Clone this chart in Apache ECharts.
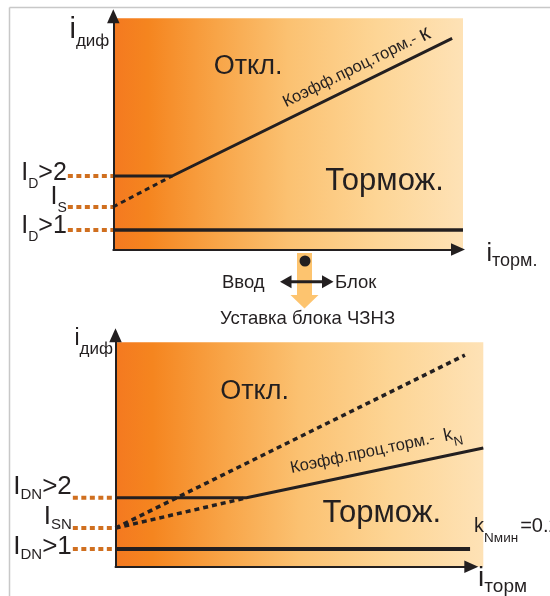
<!DOCTYPE html>
<html><head><meta charset="utf-8">
<script src="https://cdn.jsdelivr.net/npm/echarts@6/dist/echarts.min.js"></script>
<style>html,body{margin:0;padding:0;background:#fff}#c{width:550px;height:596px}</style>
</head><body><div id="c"></div>
<script>
// ---------- data (relative current units) ----------
const xRange = [-1.6, 10];
const yRange = [0, 10];
const zoneCorners = [[0, 0], [10, 10]];          // shaded operating area

// top panel: i_diff vs i_torm, standard characteristic
const topLevels = [3.18, 1.84, 0.84];            // I_D>2, I_S, I_D>1
const topLevelLabels = [['I', 'D', '>2'], ['I', 'S', ''], ['I', 'D', '>1']];
const topBreakX = 1.69;                           // end of I_D>2 flat part
const topSlopeEnd = [9.69, 9.13];                 // end of slope k
const topLowEndX = 10;                            // end of I_D>1 line
const topGuideStartX = -1.29;                     // start of orange guide dots
const topRegionNames = ['Откл.', 'Тормож.'];
const topRegionAnchors = [[3.86, 7.92], [7.76, 2.93]];
const topSlopeText = ['Коэфф.проц.торм.- ', 'к'];

// bottom panel: ЧЗНЗ block setting
const botLevels = [3.07, 1.72, 0.79];            // I_DN>2, I_SN, I_DN>1
const botLevelLabels = [['I', 'DN', '>2'], ['I', 'SN', ''], ['I', 'DN', '>1']];
const botBreakX = 3.56;
const botSlopeEnd = [10, 5.29];                   // k_N slope end
const botUpperEnd = [9.5, 9.43];                  // dotted k slope end
const botLowEndX = 9.64;
const botGuideStartX = -1.16;
const botRegionNames = ['Откл.', 'Тормож.'];
const botRegionAnchors = [[3.78, 7.82], [7.24, 2.38]];
const botSlopeText = ['Коэфф.проц.торм.-  ', 'k', 'N'];
const botNoteText = ['k', 'Nмин', '=0.2'];
const botNoteAnchor = [9.75, 1.81];

const axisNames = { main: 'i', ySub: 'диф', xTopSub: 'торм.', xBotSub: 'торм' };
const switchTexts = ['Ввод', 'Блок', 'Уставка блока ЧЗНЗ'];

// ---------- styles ----------
const ink = '#231f20';
const guideColor = '#d06f1f';
const ff = '"Liberation Sans", Arial, Helvetica, sans-serif';
const topLabelShift = [-3, -9.5, -3.5];
const botLabelShift = [-10.7, -11, -1.7];
const regionSizes = [27, 31];
const grad = {
  type: 'linear', x: 0, y: 0, x2: 1, y2: 0, global: false,
  colorStops: [
    { offset: 0, color: '#f47920' }, { offset: 0.1, color: '#f5851f' },
    { offset: 0.3, color: '#f8a548' }, { offset: 0.5, color: '#fbc171' },
    { offset: 0.75, color: '#fdd595' }, { offset: 1, color: '#fee2b6' }
  ]
};

function rich(mainSize, subSize, pad) {
  return {
    m: { fontSize: mainSize, lineHeight: mainSize, color: ink, fontFamily: ff },
    s: { fontSize: subSize, lineHeight: subSize, padding: [pad, 0, 0, 0], color: ink, fontFamily: ff }
  };
}
function subText(parts) {
  let s = '{m|' + parts[0] + '}{s|' + parts[1] + '}';
  if (parts[2]) s += '{m|' + parts[2] + '}';
  return s;
}

const grids = [
  { left: 57, top: 18.3, width: 406, height: 231.2, outerBoundsMode: 'none', containLabel: false },
  { left: 113.3, top: 16.3, width: 344.7, height: 233.2, outerBoundsMode: 'none', containLabel: false },
  { left: 56.65, top: 342.3, width: 426.65, height: 224.4, outerBoundsMode: 'none', containLabel: false },
  { left: 115.5, top: 335.3, width: 355.8, height: 231.4, outerBoundsMode: 'none', containLabel: false }
];

function hiddenAxis(g, range) {
  return { type: 'value', gridIndex: g, min: range[0], max: range[1], show: false };
}
function arrowAxis(g, name, gap, textStyle) {
  return {
    type: 'value', gridIndex: g, min: 0, max: 1, name: name, nameLocation: 'end', nameGap: gap,
    nameMoveOverlap: false, nameTextStyle: textStyle, z: 6,
    axisLine: { show: true, onZero: false, symbol: ['none', 'triangle'], symbolSize: [12.5, 14],
      lineStyle: { color: ink, width: 2 } },
    axisTick: { show: false }, axisLabel: { show: false }, splitLine: { show: false }
  };
}

const xAxes = [
  hiddenAxis(0, xRange),
  arrowAxis(1, '{m|' + axisNames.main + '}{s|' + axisNames.xTopSub + '}', 28.5,
    { padding: [9, 0, 0, 0], rich: rich(25, 18, 13.4) }),
  hiddenAxis(2, xRange),
  arrowAxis(3, '{m|' + axisNames.main + '}{s|' + axisNames.xBotSub + '}', 6.8,
    { padding: [22.6, 0, 0, 0], rich: rich(28, 19, 18) })
];
const yAxes = [
  hiddenAxis(0, yRange),
  arrowAxis(1, '{m|' + axisNames.main + '}{s|' + axisNames.ySub + '}', 1,
    { align: 'right', verticalAlign: 'top', padding: [0, 4, 0, 0], rich: rich(29, 17, 24) }),
  hiddenAxis(2, yRange),
  arrowAxis(3, '{m|' + axisNames.main + '}{s|' + axisNames.ySub + '}', 8,
    { align: 'right', verticalAlign: 'top', padding: [0, 2.5, 0, 0], rich: rich(23, 17, 22) })
];

function zone(g) {
  return {
    type: 'line', xAxisIndex: g, yAxisIndex: g, data: [], symbol: 'none', silent: true, z: 1,
    markArea: { silent: true, animation: false,
      itemStyle: { color: grad, opacity: 1, borderWidth: 0 },
      label: { show: false },
      data: [[{ coord: zoneCorners[0] }, { coord: zoneCorners[1] }]] }
  };
}
function line(g, data, width, dash) {
  return {
    type: 'line', xAxisIndex: g, yAxisIndex: g, data: data, symbol: 'none',
    lineStyle: { color: ink, width: width, type: dash || 'solid', cap: 'butt' }, silent: true, z: 3
  };
}
function guide(g, startX, level, parts, shift, r) {
  return {
    type: 'line', xAxisIndex: g, yAxisIndex: g, symbol: 'circle', symbolSize: 0,
    showSymbol: true, itemStyle: { color: guideColor, opacity: 1 }, silent: true, z: 2,
    lineStyle: { color: guideColor, width: 4, type: [5, 3.5], cap: 'butt' },
    data: [
      { value: [startX, level], label: { show: true, position: 'left', distance: 1, offset: [0, shift],
        formatter: subText(parts), rich: r, textBorderWidth: 0 } },
      [0, level]
    ]
  };
}
function regions(g, names, anchors) {
  return {
    type: 'scatter', xAxisIndex: g, yAxisIndex: g, symbolSize: 0, silent: true, z: 4,
    itemStyle: { color: ink, opacity: 1 },
    data: anchors.map((a, i) => ({ value: a, name: names[i],
      label: { fontSize: regionSizes[i] } })),
    label: { show: true, position: 'inside', formatter: p => p.name,
      color: ink, opacity: 1, textBorderWidth: 0, fontFamily: ff }
  };
}

const series = [zone(0), zone(2)];
// top panel
const topMain = line(0, [[0, topLevels[0]], [topBreakX, topLevels[0]], topSlopeEnd], 3);
topMain.markLine = {
  silent: true, symbol: 'none', animation: false,
  lineStyle: { color: 'transparent', width: 0 },
  label: { show: true, position: 'insideEndTop', distance: [18, 5], color: ink,
    formatter: '{t|' + topSlopeText[0] + '}{k|' + topSlopeText[1] + '}',
    rich: { t: { fontSize: 16.5, lineHeight: 16.5, color: ink, fontFamily: ff },
            k: { fontSize: 22, lineHeight: 22, color: ink, fontFamily: ff } } },
  data: [[{ coord: [topBreakX, topLevels[0]] }, { coord: topSlopeEnd }]]
};
series.push(topMain);
series.push(line(0, [[0, topLevels[1]], [topBreakX, topLevels[0]]], 3, [5, 4]));
series.push(line(0, [[0, topLevels[2]], [topLowEndX, topLevels[2]]], 3.5));
topLevels.forEach((lv, i) => series.push(guide(0, topGuideStartX, lv, topLevelLabels[i], topLabelShift[i], rich(25, 14, 22))));
series.push(regions(0, topRegionNames, topRegionAnchors));

// bottom panel
const botMain = line(2, [[0, botLevels[0]], [botBreakX, botLevels[0]], botSlopeEnd], 3);
botMain.markLine = {
  silent: true, symbol: 'none', animation: false,
  lineStyle: { color: 'transparent', width: 0 },
  label: { show: true, position: 'insideEndTop', distance: [18, 10.5], color: ink,
    formatter: '{t|' + botSlopeText[0] + '}{k|' + botSlopeText[1] + '}{n|' + botSlopeText[2] + '}',
    rich: { t: { fontSize: 16.5, lineHeight: 16.5, color: ink, fontFamily: ff },
            k: { fontSize: 18, lineHeight: 18, color: ink, fontFamily: ff },
            n: { fontSize: 13, lineHeight: 13, padding: [16, 0, 0, 0], color: ink, fontFamily: ff } } },
  data: [[{ coord: [botBreakX, botLevels[0]] }, { coord: botSlopeEnd }]]
};
series.push(botMain);
series.push(line(2, [[0, botLevels[1]], [botBreakX, botLevels[0]]], 3.5, [5, 4]));
series.push(line(2, [[0, botLevels[1]], botUpperEnd], 3.5, [5, 4]));
series.push(line(2, [[0, botLevels[2]], [botLowEndX, botLevels[2]]], 4));
botLevels.forEach((lv, i) => series.push(guide(2, botGuideStartX, lv, botLevelLabels[i], botLabelShift[i], rich(26, 15, 16))));
series.push(regions(2, botRegionNames, botRegionAnchors));
series.push({
  type: 'scatter', xAxisIndex: 2, yAxisIndex: 2, symbolSize: 0, silent: true, z: 4,
  itemStyle: { color: ink, opacity: 1 },
  data: [botNoteAnchor],
  label: { show: true, position: 'right', distance: 0, opacity: 1,
    formatter: '{m|' + botNoteText[0] + '}{s|' + botNoteText[1] + '}{t|' + botNoteText[2] + '}',
    rich: { m: { fontSize: 20, lineHeight: 20, color: ink, fontFamily: ff },
            s: { fontSize: 13.5, lineHeight: 13.5, padding: [24, 0, 0, 0], color: ink, fontFamily: ff },
            t: { fontSize: 20, lineHeight: 20, padding: [0, 0, 0, 2], color: ink, fontFamily: ff } } }
});

const chart = echarts.init(document.getElementById('c'), null, { renderer: 'canvas' });
chart.setOption({
  animation: false,
  backgroundColor: '#ffffff',
  textStyle: { fontFamily: ff, color: ink },
  grid: grids, xAxis: xAxes, yAxis: yAxes, series: series,
  graphic: [
    { type: 'line', shape: { x1: 9.5, y1: 7.5, x2: 550, y2: 7.5 }, style: { stroke: '#c8c8c8', lineWidth: 1.5 }, silent: true },
    { type: 'line', shape: { x1: 9.5, y1: 7.5, x2: 9.5, y2: 596 }, style: { stroke: '#c8c8c8', lineWidth: 1.5 }, silent: true },
    { type: 'polygon', shape: { points: [[297, 253], [312, 253], [312, 295], [318.5, 295], [304.5, 308.5], [290.5, 295], [297, 295]] },
      style: { fill: '#fdc46f' }, silent: true },
    { type: 'line', shape: { x1: 289, y1: 281.7, x2: 325, y2: 281.7 }, style: { stroke: ink, lineWidth: 3 }, silent: true },
    { type: 'polygon', shape: { points: [[280, 281.7], [291.5, 275.2], [291.5, 288.2]] }, style: { fill: ink }, silent: true },
    { type: 'polygon', shape: { points: [[333.5, 281.7], [322, 275.2], [322, 288.2]] }, style: { fill: ink }, silent: true },
    { type: 'circle', shape: { cx: 305, cy: 261, r: 5.5 }, style: { fill: ink }, silent: true },
    { type: 'text', x: 222, y: 283, style: { text: switchTexts[0], font: '18.5px ' + ff, fill: ink, verticalAlign: 'middle' }, silent: true },
    { type: 'text', x: 335, y: 283, style: { text: switchTexts[1], font: '18.5px ' + ff, fill: ink, verticalAlign: 'middle' }, silent: true },
    { type: 'text', x: 307.5, y: 318.5, style: { text: switchTexts[2], font: '18.5px ' + ff, fill: ink, align: 'center', verticalAlign: 'middle' }, silent: true }
  ]
});
</script></body></html>
